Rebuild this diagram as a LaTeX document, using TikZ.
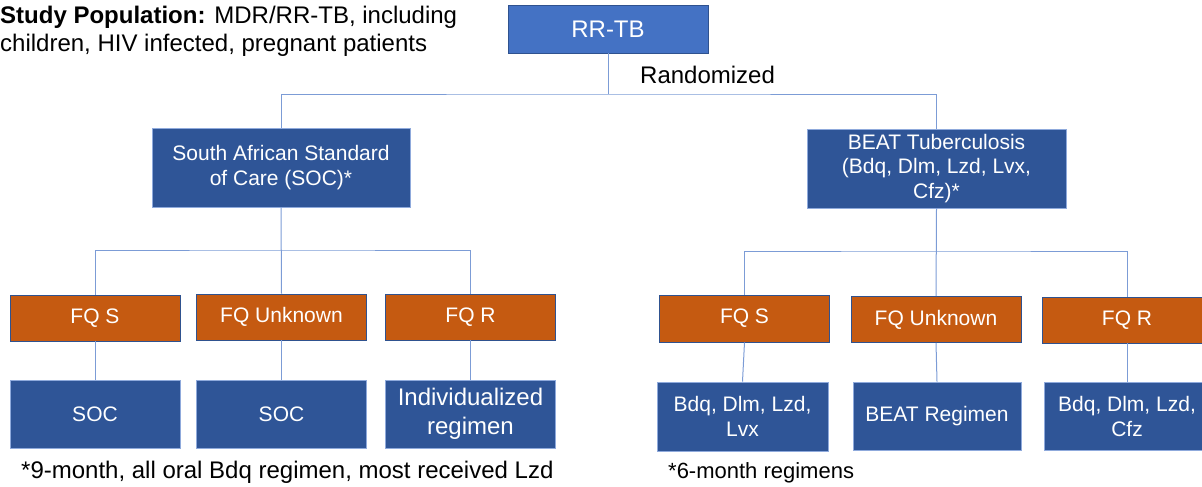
\documentclass[tikz,border=0pt]{standalone}
\usepackage{fontspec}
\setmainfont{Liberation Sans}
\usepackage{xcolor}
\usetikzlibrary{positioning, calc}
\definecolor{topblue}{HTML}{4472C4}
\definecolor{armblue}{HTML}{2F5597}
\definecolor{fqorange}{HTML}{C55A11}
\definecolor{edgeblue}{HTML}{2F528F}
\definecolor{lineblue}{HTML}{7C9CD6}
\definecolor{paleedge}{HTML}{8FAADC}
\newcommand{\fs}[2]{\fontsize{#1}{#2}\selectfont}

\begin{document}
\begin{tikzpicture}[
  x=1pt, y=-1pt,
  box/.style={rectangle, draw=paleedge, line width=0.8pt, fill=armblue, text=white,
              inner sep=2pt, align=center, font=\fs{21}{25}},
  fqbox/.style={box, fill=fqorange, draw=edgeblue, minimum width=170, minimum height=46},
  regbox/.style={box, minimum width=170, minimum height=68},
  link/.style={draw=lineblue, line width=1pt},
  note/.style={inner sep=0pt, align=left, text=black}
]
  \useasboundingbox (0,0) rectangle (1202,487);

  % Row 1: population and randomisation
  \node[note, anchor=north west, font=\fs{24}{28}] (pop) at (0,6)
    {\textbf{Study Population:} MDR/RR-TB, including\\children, HIV infected, pregnant patients};
  \node[box, fill=topblue, draw=edgeblue, minimum width=200, minimum height=48, font=\fs{24}{28}]
    (rrtb) at (608,29) {RR-TB};
  \node[note, anchor=west, font=\fs{24}{28}] (rand) at (640,75) {Randomized};
  \coordinate (split) at (608,94);

  % Row 2: study arms
  \node[box, minimum width=258, minimum height=79] (socarm) at (281,167.5)
    {South African Standard\\of Care (SOC)*};
  \node[box, minimum width=259, minimum height=79, font=\fs{21}{24.5}] (beatarm) at (936.5,168.5)
    {BEAT Tuberculosis\\(Bdq, Dlm, Lzd, Lvx,\\Cfz)*};
  \draw[link] (rrtb.south) -- (split);
  \draw[link] (socarm.north) |- (split) -| (beatarm.north);

  % Row 3: fluoroquinolone status, SOC arm
  \node[fqbox] (fqsL) at (95,318) {FQ S};
  \node[fqbox] (fquL) at (281.5,317) {FQ Unknown};
  \node[fqbox] (fqrL) at (470.5,317) {FQ R};
  \coordinate (splitL) at (281.5,250);
  \draw[link] (socarm.south) -- (fquL.north);
  \draw[link] (fqsL.north) |- (splitL) -| (fqrL.north);

  % Row 3: fluoroquinolone status, BEAT arm
  \node[fqbox, minimum height=47] (fqsR) at (744.5,318.5) {FQ S};
  \node[fqbox] (fquR) at (936,319.5) {FQ Unknown};
  \node[fqbox] (fqrR) at (1127,320) {FQ R};
  \coordinate (splitR) at (936,251);
  \draw[link] (beatarm.south) -- (fquR.north);
  \draw[link] (fqsR.north) |- (splitR) -| (fqrR.north);

  % Row 4: regimens
  \node[regbox] (socA) at (95,414) {SOC};
  \node[regbox] (socB) at (281.5,414) {SOC};
  \node[regbox, font=\fs{24}{29}] (indiv) at (470.5,414) {Individualized\\regimen};
  \node[regbox, minimum width=171, minimum height=69] (bdqLvx) at (742.5,416.5) {Bdq, Dlm, Lzd,\\Lvx};
  \node[regbox, minimum width=168] (beatreg) at (937,416) {BEAT Regimen};
  \node[regbox, minimum width=166] (bdqCfz) at (1127,416) {Bdq, Dlm, Lzd,\\Cfz};
  \foreach \a/\b in {fqsL/socA, fquL/socB, fqrL/indiv, fqsR/bdqLvx, fquR/beatreg, fqrR/bdqCfz}
    \draw[link] (\a.south) -- (\b.north);

  % Footnotes
  \node[note, anchor=base west, font=\fs{24}{28}] (noteL) at (21,478)
    {*9-month, all oral Bdq regimen, most received Lzd};
  \node[note, anchor=base west, font=\fs{22}{26}] (noteR) at (668,478) {*6-month regimens};
\end{tikzpicture}
\end{document}
